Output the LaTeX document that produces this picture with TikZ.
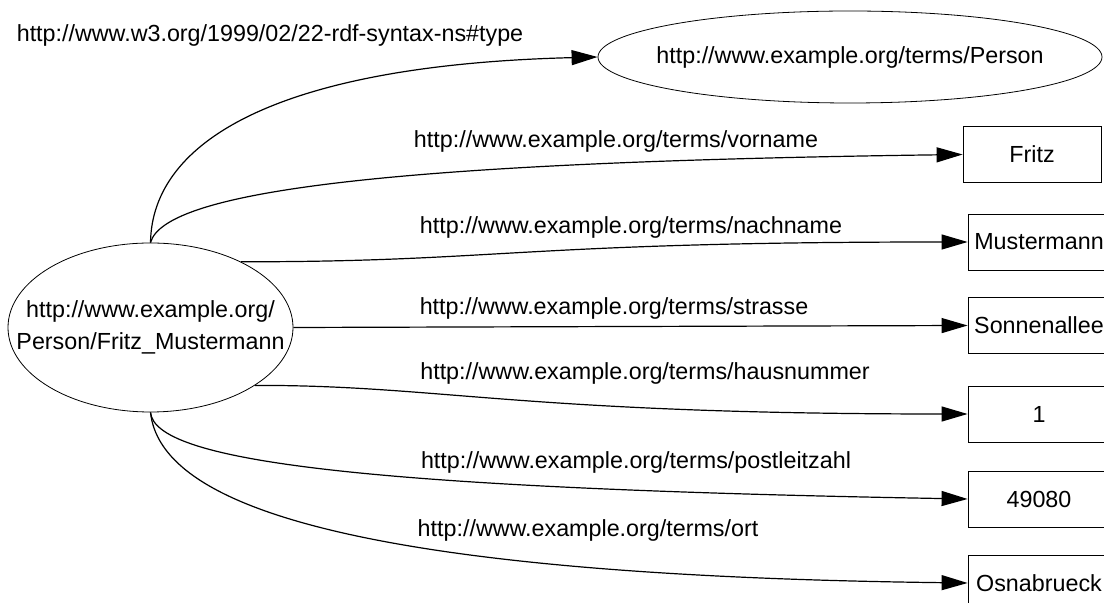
\documentclass[tikz,border=0pt]{standalone}
\usepackage{fontspec}
\setmainfont{Liberation Sans}
\usetikzlibrary{arrows.meta,shapes.geometric}
\begin{document}
\begin{tikzpicture}[x=0.5pt, y=-0.5pt, font=\fontsize{11.65}{16}\selectfont,
      resnode/.style={draw, ellipse, inner xsep=-20pt, inner ysep=0pt, align=center},
      litnode/.style={draw, inner sep=0pt, minimum width=71pt, minimum height=28pt},
      proplabel/.style={inner sep=0pt},
      proparr/.style={-{Triangle[length=13pt, width=7.5pt]}, line width=0.6pt}]
    \useasboundingbox (0,0) rectangle (1104,603);
    \clip (0,0) rectangle (1104,603);
    \node[resnode, minimum width=142.5pt, minimum height=84.5pt] (subj) at (150.5,327.5) {http://www.example.org/\\Person/Fritz\_Mustermann};
    \node[resnode, minimum width=252pt, minimum height=46pt] (person) at (850,57) {http://www.example.org/terms/Person};
    \node[litnode, minimum width=69pt] (fritz) at (1032,154.5) {Fritz};
    \node[litnode] (muster) at (1039,242)   {Mustermann};
    \node[litnode] (sonnen) at (1039,325.5) {Sonnenallee};
    \node[litnode] (one)    at (1039,414)   {1};
    \node[litnode] (zip)    at (1039,499)   {49080};
    \node[litnode] (osna)   at (1039,583)   {Osnabrueck};
    \node[proplabel] (l-type)     at (270,35)  {http://www.w3.org/1999/02/22-rdf-syntax-ns\#type};
    \node[proplabel] (l-vorname)  at (616,141) {http://www.example.org/terms/vorname};
    \node[proplabel] (l-nachname) at (631,227) {http://www.example.org/terms/nachname};
    \node[proplabel] (l-strasse)  at (614,308) {http://www.example.org/terms/strasse};
    \node[proplabel] (l-hausnr)   at (645,373) {http://www.example.org/terms/hausnummer};
    \node[proplabel] (l-plz)      at (636,462) {http://www.example.org/terms/postleitzahl};
    \node[proplabel] (l-ort)      at (588,530) {http://www.example.org/terms/ort};
    \draw[proparr] (subj.north) .. controls (152,140) and (280,65) .. (person.west);
    \draw[proparr] (subj.north) .. controls (165,190) and (400,162) .. (fritz.west);
    \draw[proparr] (subj.36) .. controls (500,262) and (520,242) .. (muster.west);
    \draw[proparr] (subj.east) -- (sonnen.west);
    \draw[proparr] (subj.-29) .. controls (440,385) and (520,414) .. (one.west);
    \draw[proparr] (subj.south) .. controls (155,460) and (350,488) .. (zip.west);
    \draw[proparr] (subj.south) .. controls (160,500) and (330,575) .. (osna.west);
  \end{tikzpicture}
\end{document}
